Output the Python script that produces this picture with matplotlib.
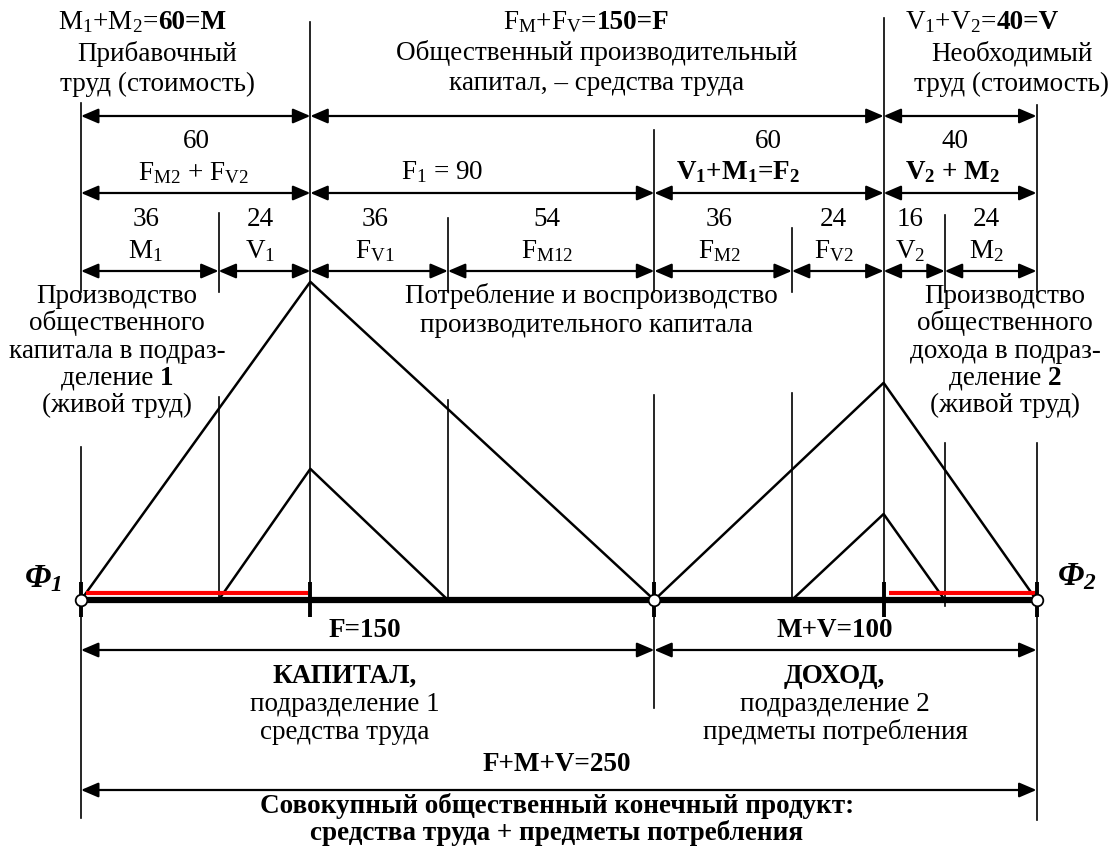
import numpy as np
import matplotlib
matplotlib.use('Agg')
import matplotlib.pyplot as plt

plt.rcParams['font.family'] = 'Liberation Serif'
plt.rcParams['mathtext.fontset'] = 'custom'
plt.rcParams['mathtext.rm'] = 'Liberation Serif'
plt.rcParams['mathtext.it'] = 'Liberation Serif:italic'
plt.rcParams['mathtext.bf'] = 'Liberation Serif:bold'
plt.rcParams['mathtext.bfit'] = 'Liberation Serif:italic:bold'

# --- data -------------------------------------------------------------
seg_names = ['M$_1$', 'V$_1$', 'F$_{\\mathrm{V1}}$', 'F$_{\\mathrm{M12}}$',
             'F$_{\\mathrm{M2}}$', 'F$_{\\mathrm{V2}}$', 'V$_2$', 'M$_2$']
seg_values = [36, 24, 36, 54, 36, 24, 16, 24]
bounds = np.concatenate([[0], np.cumsum(seg_values)])   # 0 .. 250

# triangles: left foot, apex, right foot, apex height
tri_left = [0, 36, 150, 186]
tri_peak = [60, 60, 210, 210]
tri_right = [150, 96, 250, 226]
tri_height = [148, 61, 101, 40]

red_spans = [(0, 60), (210, 250)]
nodes = [0, 150, 250]
ticks = [0, 60, 150, 210, 250]

row1 = [(0, 60), (60, 210), (210, 250)]
row2 = [(0, 60), (60, 150), (150, 210), (210, 250)]
row3 = list(zip(bounds[:-1], bounds[1:]))
row4 = [(0, 150), (150, 250)]
row5 = [(0, 250)]

# --- layout helpers (pixel positions of the 1110x852 picture) ----------
X0, SX = 81.0, 3.822
Y0, SY = 600.0, 2.15


def X(px):
    return (px - X0) / SX


def Y(py):
    return (Y0 - py) / SY


FS = 19.5
fig = plt.figure(figsize=(11.1, 8.52), dpi=100)
ax = fig.add_axes([0, 0, 1, 1])
ax.set_xlim(X(0), X(1110))
ax.set_ylim(Y(852), Y(0))
ax.axis('off')
renderer = fig.canvas.get_renderer()


def rich(px, py, parts, size=FS):
    texts = []
    for s, w in parts:
        texts.append(ax.text(0, Y(py), s, fontsize=size, fontweight=w,
                             ha='left', va='baseline'))
    widths = [t.get_window_extent(renderer).width for t in texts]
    start = px - sum(widths) / 2
    for t, w in zip(texts, widths):
        t.set_x(X(start))
        start += w


def label(px, py, s, weight='normal', size=FS):
    ax.text(X(px), Y(py), s, fontsize=size, fontweight=weight,
            ha='center', va='baseline')


def arrow_row(spans, py):
    for a, b in spans:
        ax.annotate('', xy=(b, Y(py)), xytext=(a, Y(py)),
                    arrowprops=dict(arrowstyle='<|-|>,head_length=1.05,head_width=0.45',
                                    mutation_scale=10, color='black', lw=1.6,
                                    shrinkA=0, shrinkB=0))


# --- vertical guide lines ---------------------------------------------
vlines = {0: [(103, 292), (447, 818)], 36: [(213, 292), (397, 600)],
          60: [(22, 612)], 96: [(218, 292), (400, 600)],
          150: [(130, 292), (395, 708)], 186: [(228, 292), (393, 600)],
          210: [(18, 600)], 226: [(215, 292), (443, 606)],
          250: [(105, 292), (443, 820)]}
for xv, parts in vlines.items():
    for top, bot in parts:
        ax.plot([xv, xv], [Y(top), Y(bot)], color='black', lw=1.2)

# --- triangles --------------------------------------------------------
for l, p, r, h in zip(tri_left, tri_peak, tri_right, tri_height):
    ax.plot([l, p, r], [0, h, 0], color='black', lw=1.8)

# --- base line --------------------------------------------------------
ax.plot([bounds[0], bounds[-1]], [0, 0], color='black', lw=4.5, solid_capstyle='butt')
for a, b in red_spans:
    ax.plot([a + 1.3, b - 0.5], [Y(592.5), Y(592.5)], color='#ff0000', lw=3.0,
            solid_capstyle='butt')
for t in ticks:
    ax.plot([t, t], [Y(582), Y(617)], color='black', lw=2.8, solid_capstyle='butt')
ax.scatter(nodes, [0] * len(nodes), s=70, facecolor='white', edgecolor='black',
           linewidths=1.3, zorder=5)

# --- dimension arrows -------------------------------------------------
arrow_row(row1, 116)
arrow_row(row2, 193)
arrow_row(row3, 271)
arrow_row(row4, 650)
arrow_row(row5, 790)

# --- top texts ----------------------------------------------------------
rich(142, 29, [('M$_1$+M$_2$=', 'normal'), ('60=M', 'bold')])
label(157, 61, 'Прибавочный')
label(157, 91, 'труд (стоимость)')
rich(586, 29, [('F$_{\\mathrm{M}}$+F$_{\\mathrm{V}}$=', 'normal'), ('150=F', 'bold')])
label(597, 60, 'Общественный производительный')
label(597, 90, 'капитал, – средства труда')
rich(982, 29, [('V$_1$+V$_2$=', 'normal'), ('40=V', 'bold')])
label(1012, 61, 'Необходимый')
label(1012, 91, 'труд (стоимость)')

label(196, 148, '60')
label(193, 180, 'F$_{\\mathrm{M2}}$ + F$_{\\mathrm{V2}}$')
label(442, 179, 'F$_1$ = 90')
label(768, 148, '60')
label(738, 179, 'V$_{\\mathbf{1}}$+M$_{\\mathbf{1}}$=F$_{\\mathbf{2}}$', weight='bold')
label(955, 148, '40')
label(953, 179, 'V$_{\\mathbf{2}}$ + M$_{\\mathbf{2}}$', weight='bold')

for (a, b), name, val in zip(row3, seg_names, seg_values):
    mid = X0 + SX * (a + b) / 2 - 4
    label(mid, 226, str(val))
    label(mid, 258, name)

# --- middle texts -------------------------------------------------------
for i, s in enumerate(['Производство', 'общественного', 'капитала в подраз-']):
    label(117, 303 + 27.3 * i, s)
rich(117, 385, [('деление ', 'normal'), ('1', 'bold')])
label(117, 412, '(живой труд)')
for i, s in enumerate(['Производство', 'общественного', 'дохода в подраз-']):
    label(1005, 303 + 27.3 * i, s)
rich(1005, 385, [('деление ', 'normal'), ('2', 'bold')])
label(1005, 412, '(живой труд)')
label(591, 303, 'Потребление и воспроизводство')
label(586, 332, 'производительного капитала')

ax.text(X(24), Y(587), '$\\mathbfit{Φ}_{\\mathbfit{1}}$', fontsize=24, ha='left', va='baseline')
ax.text(X(1057), Y(585), '$\\mathbfit{Φ}_{\\mathbfit{2}}$', fontsize=24, ha='left', va='baseline')

# --- bottom texts -------------------------------------------------------
label(365, 637, 'F=150', 'bold')
label(835, 637, 'M+V=100', 'bold')
label(345, 683, 'КАПИТАЛ,', 'bold')
label(345, 711, 'подразделение 1')
label(345, 739, 'средства труда')
label(834, 683, 'ДОХОД,', 'bold')
label(835, 711, 'подразделение 2')
label(835, 739, 'предметы потребления')
label(557, 771, 'F+M+V=250', 'bold')
label(557, 813, 'Совокупный общественный конечный продукт:', 'bold')
label(557, 840, 'средства труда + предметы потребления', 'bold')

fig.savefig('out.png', dpi=100)
